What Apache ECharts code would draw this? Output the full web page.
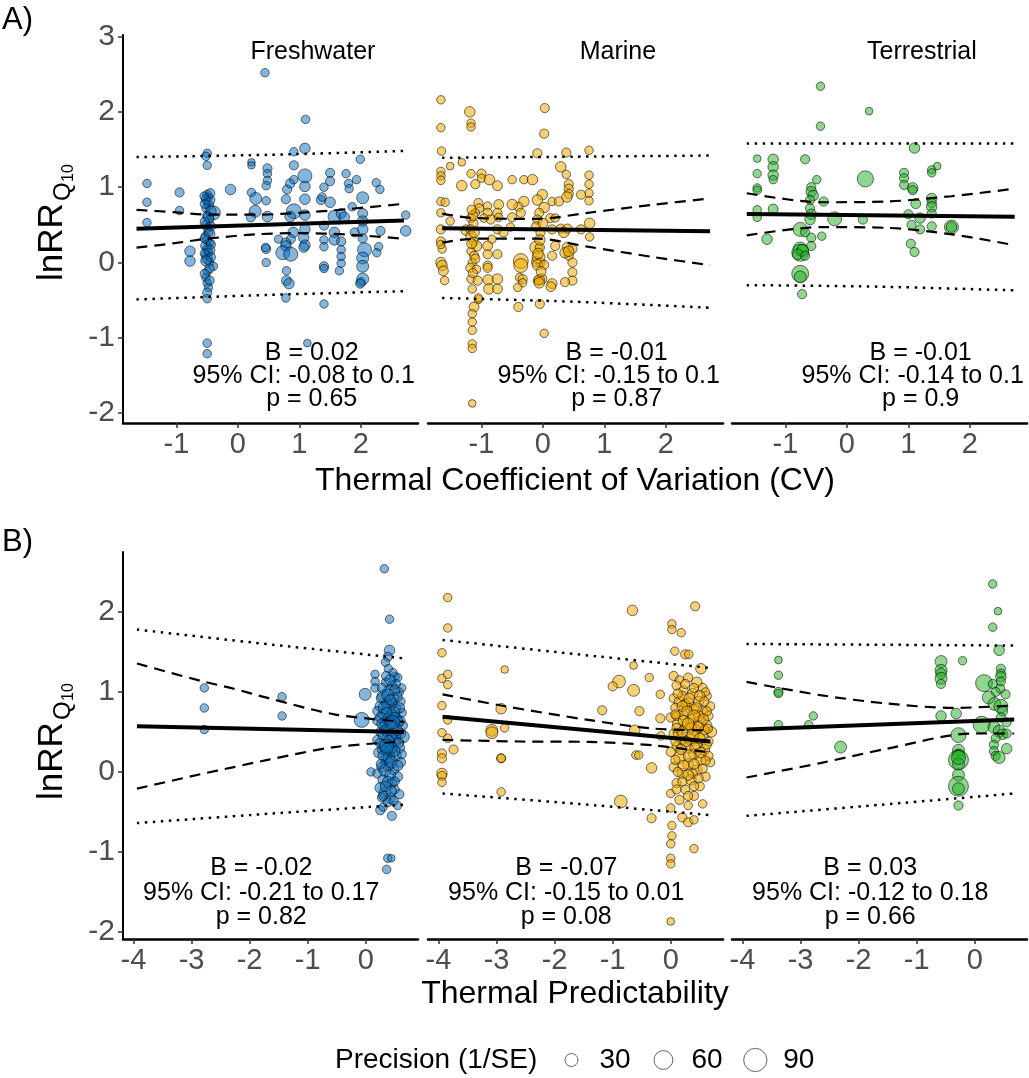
<!DOCTYPE html>
<html><head><meta charset="utf-8">
<script src="https://cdn.jsdelivr.net/npm/echarts@6/dist/echarts.min.js"></script>
<style>html,body{margin:0;padding:0;background:#fff}#c{width:1029px;height:1078px}</style>
</head><body><div id="c"></div>
<script>
const FONT = '"Liberation Sans", Arial, Helvetica, sans-serif';
const habitats = ['Freshwater', 'Marine', 'Terrestrial'];
const xTicksCV = [-1, 0, 1, 2];
const xTicksPred = [-4, -3, -2, -1, 0];
const yTicksA = [-2, -1, 0, 1, 2, 3];
const yTicksB = [-2, -1, 0, 1, 2];
const legendVals = [30, 60, 90];
const statsCV = [
  ['B = 0.02', '95% CI: -0.08 to 0.1', 'p = 0.65'],
  ['B = -0.01', '95% CI: -0.15 to 0.1', 'p = 0.87'],
  ['B = -0.01', '95% CI: -0.14 to 0.1', 'p = 0.9']
];
const statsPred = [
  ['B = -0.02', '95% CI: -0.21 to 0.17', 'p = 0.82'],
  ['B = -0.07', '95% CI: -0.15 to 0.01', 'p = 0.08'],
  ['B = 0.03', '95% CI: -0.12 to 0.18', 'p = 0.66']
];

// points: [x, lnRR, precision]
const fwCV = [
[-1.48,1.05,11],[-1.48,0.80,11],[-1.48,0.53,11],[-0.95,0.93,13],[-0.95,0.69,11],[-0.78,0.15,17],[-0.78,0.02,17],
[-0.50,1.45,11],[-0.52,1.41,11],[-0.50,1.29,11],[-0.50,0.90,13],[-0.48,0.87,11],[-0.52,0.84,13],[-0.50,0.80,11],[-0.47,0.76,13],[-0.52,0.72,11],[-0.40,0.66,30],[-0.50,0.62,13],[-0.46,0.57,11],[-0.52,0.50,13],[-0.50,0.46,11],[-0.48,0.40,13],[-0.53,0.35,11],[-0.50,0.30,13],[-0.46,0.26,11],[-0.52,0.22,17],[-0.50,0.18,13],[-0.48,0.14,11],[-0.52,0.10,13],[-0.50,0.05,17],[-0.46,0.00,11],[-0.40,-0.05,11],[-0.50,-0.12,11],[-0.52,-0.20,11],[-0.50,-0.27,11],[-0.48,-0.33,11],[-0.50,-0.40,13],[-0.50,-0.48,11],[-0.50,-1.07,11],[-0.50,-1.21,11],
[-0.46,0.83,17],[-0.54,0.78,13],[-0.44,0.68,17],[-0.48,0.60,17],[-0.54,0.54,13],[-0.44,0.48,13],[-0.46,0.38,17],[-0.54,0.32,13],[-0.44,0.24,13],[-0.46,0.16,17],[-0.54,0.12,13],[-0.44,0.07,13],[-0.52,0.02,17],[-0.46,-0.08,13],[-0.54,-0.15,13],[-0.46,-0.24,13],[-0.45,0.92,13],[-0.55,0.88,11],
[-0.12,0.97,17],[0.22,1.33,9],[0.22,1.29,9],[0.22,0.93,11],[0.29,0.85,22],[0.28,0.68,22],[0.21,0.60,13],
[0.44,2.52,11],[0.48,1.25,13],[0.48,1.18,11],[0.48,1.09,11],[0.46,1.02,11],[0.46,0.82,11],[0.48,0.61,17],[0.46,0.18,13],[0.46,0.00,11],[0.45,0.20,11],
[0.66,0.31,10],[0.78,0.84,13],[0.80,0.97,13],[0.85,1.05,13],[0.91,1.10,11],[0.91,1.29,13],[0.91,1.47,11],
[0.91,0.68,34],[0.85,0.61,17],[0.90,0.40,17],[0.86,0.31,13],[0.78,0.26,15],[0.78,0.22,17],[0.73,0.13,30],[0.86,0.11,30],[0.79,-0.11,11],[0.79,-0.24,15],[0.78,-0.47,11],[0.83,-0.28,17],
[1.09,1.515,17],[1.10,1.90,11],[1.09,1.15,30],[1.09,1.01,17],[1.09,0.84,17],[1.09,0.63,17],[1.09,0.44,17],[1.07,0.33,17],[1.09,0.23,17],[1.07,0.20,15],[1.13,-1.07,9],
[1.35,0.83,13],[1.37,0.87,11],[1.40,1.00,11],[1.50,1.19,13],[1.50,1.08,13],[1.50,0.80,17],[1.40,0.49,13],[1.57,0.61,25],[1.57,0.40,17],[1.57,0.30,17],[1.40,0.30,11],[1.40,0.21,11],[1.40,-0.05,13],[1.40,-0.08,11],[1.40,-0.55,11],
[1.68,0.65,15],[1.73,0.60,17],[1.76,1.18,11],[1.80,1.05,11],[1.81,0.98,11],[1.86,0.74,11],[1.68,0.28,13],[1.68,0.17,11],[1.68,0.08,11],[1.68,-0.01,11],[1.65,-0.11,11],[1.90,0.40,13],
[1.93,1.10,11],[1.99,1.37,11],[2.03,0.86,22],[2.03,0.65,15],[2.03,0.55,17],[2.03,0.44,17],[2.03,0.32,13],[2.06,0.17,30],[2.03,0.06,22],[2.03,-0.05,22],[2.00,-0.26,13],[2.03,-0.22,22],[1.99,-0.28,13],
[2.25,1.06,11],[2.31,0.97,11],[2.32,0.42,13],[2.29,0.21,11],[2.26,0.13,11],[2.73,0.63,11],[2.73,0.42,17]
];
const mrCV = [
[-1.66,2.16,11],[-1.66,1.79,11],[-1.65,1.48,11],[-1.66,1.21,11],[-1.66,1.15,11],[-1.66,1.09,11],[-1.66,0.81,11],[-1.59,0.80,11],[-1.66,0.66,11],[-1.51,0.55,11],[-1.66,0.44,13],[-1.66,0.28,13],[-1.64,0.18,11],[-1.66,0.24,11],[-1.66,0.00,17],[-1.64,-0.04,17],[-1.62,-0.11,15],[-1.60,-0.24,11],
[-1.51,1.28,9],[-1.32,1.33,9],[-1.32,1.02,17],[-1.25,0.43,17],
[-1.19,2.00,17],[-1.17,1.85,11],[-1.17,1.80,11],[-1.17,1.18,11],[-1.10,1.04,13],[-1.00,1.18,13],[-1.00,1.12,11],[-1.05,0.79,13],[-1.04,0.72,13],[-1.10,0.66,11],[-1.17,0.59,13],[-1.13,0.52,13],[-1.18,0.44,13],[-1.17,0.35,17],[-1.13,0.28,13],[-1.08,0.22,17],[-1.17,0.15,11],[-1.12,0.09,13],[-1.15,0.00,11],[-1.18,-0.07,13],[-1.08,-0.09,11],[-1.17,-0.22,11],[-1.06,-0.24,13],[-1.15,-0.35,11],[-1.05,-0.49,11],[-1.12,-0.59,15],[-1.15,-0.68,11],[-1.15,-0.79,11],[-1.15,-0.90,11],[-1.15,-1.08,11],[-1.15,-1.14,11],[-1.15,-1.87,9],
[-1.14,0.62,15],[-1.12,0.40,17],[-1.16,0.25,15],[-1.10,0.05,13],[-1.14,-0.14,13],[-1.16,0.70,13],
[-0.87,1.10,17],[-0.74,1.02,15],[-0.90,0.75,11],[-0.90,0.66,13],[-0.96,0.59,11],[-0.85,0.57,13],[-0.72,0.77,15],[-0.74,0.66,13],[-0.72,0.60,11],[-0.83,0.31,11],[-0.74,0.44,13],[-0.64,0.40,13],[-0.90,0.22,15],[-0.90,0.11,13],[-0.74,0.11,13],[-0.90,-0.04,13],[-0.90,-0.07,13],[-0.89,-0.23,17],[-0.74,-0.22,17],[-0.88,-0.35,17],[-0.74,-0.35,15],[-1.05,-0.47,11],
[-0.50,1.10,11],[-0.31,1.10,11],[-0.17,1.10,17],[-0.31,0.81,17],[-0.40,0.74,13],[-0.36,0.66,13],[-0.50,0.77,17],[-0.50,0.60,13],[-0.53,0.47,11],[-0.36,0.02,34],[-0.36,-0.04,30],[-0.38,-0.20,11],[-0.33,-0.22,13],[-0.33,-0.27,11],[-0.41,-0.33,11],[-0.40,-0.59,13],
[0.03,2.05,13],[0.02,1.71,13],[-0.09,1.45,13],[-0.01,0.90,17],[-0.09,0.83,17],[0.02,0.73,17],[-0.06,0.66,13],[-0.09,0.57,13],[-0.11,0.48,13],[-0.04,0.40,13],[0.12,0.59,13],[0.20,0.59,11],[0.15,0.44,13],[0.20,0.22,13],[0.15,0.09,13],[0.15,0.81,11],[-0.11,0.20,25],[-0.05,0.20,13],[-0.10,0.01,17],[-0.04,0.00,13],[-0.02,-0.22,17],[-0.08,-0.24,13],[0.15,-0.28,15],[-0.07,0.07,25],[-0.09,-0.03,17],[0.02,-0.03,13],[-0.06,-0.23,17],[-0.06,-0.27,17],[0.13,-0.32,15],[-0.05,-0.55,13],[0.02,-0.94,11],
[-0.05,0.30,17],[-0.08,0.12,17],[0.00,0.52,15],[-0.03,-0.12,15],
[0.38,1.46,13],[0.29,1.27,17],[0.38,1.17,11],[0.42,1.04,13],[0.42,0.98,13],[0.42,0.91,13],[0.39,0.87,17],[0.26,0.81,13],[0.29,0.45,13],[0.34,0.40,17],[0.40,0.45,13],[0.40,0.20,17],[0.48,0.18,13],[0.42,0.09,13],[0.48,0.00,13],[0.48,-0.13,13],[0.48,-0.24,13],[0.36,-0.26,13],[0.36,0.13,17],[0.42,0.15,17],
[0.75,1.49,11],[0.75,1.16,11],[0.75,1.04,11],[0.75,0.92,11],[0.75,0.82,11],[0.62,0.90,13],[0.62,0.44,13],[0.76,0.52,17],[0.76,0.34,11]
];
const trCV = [
[-1.46,1.38,9],[-1.46,1.18,11],[-1.46,0.99,11],[-1.46,0.96,11],[-1.46,0.70,11],[-1.46,0.60,11],
[-1.20,1.37,17],[-1.20,1.27,17],[-1.20,1.16,17],[-1.20,1.10,11],[-1.20,0.71,15],[-1.30,0.31,17],
[-0.68,1.37,13],[-0.43,2.34,11],[-0.43,1.81,11],[-0.49,1.10,11],
[-0.58,1.00,13],[-0.58,0.94,17],[-0.55,0.89,17],[-0.60,0.83,13],[-0.38,0.81,13],[-0.60,0.72,13],[-0.58,0.64,17],[-0.60,0.57,17],
[-0.76,0.44,30],[-0.68,0.40,13],[-0.58,0.33,13],[-0.58,0.22,13],[-0.76,0.18,30],[-0.76,0.13,44],[-0.72,0.16,22],[-0.80,0.11,17],[-0.68,0.09,13],[-0.76,-0.15,44],[-0.76,-0.19,22],[-0.73,-0.42,13],[-0.41,0.35,11],
[-0.20,0.58,30],[0.26,0.57,13],[0.30,1.11,40],[0.36,2.01,9],
[0.93,1.19,13],[0.93,1.12,13],[0.93,1.03,13],[1.07,0.99,17],[1.07,0.96,13],[1.10,1.52,17],[1.12,0.78,15],[1.00,0.64,13],[1.05,0.50,13],[1.19,0.59,17],[1.19,0.44,13],[1.04,0.25,13],[1.10,0.14,13],
[1.38,1.23,11],[1.47,1.28,9],[1.38,1.19,11],[1.38,0.85,17],[1.38,0.79,13],[1.38,0.74,17],[1.38,0.65,13],[1.38,0.48,13],
[1.70,0.47,30],[1.70,0.47,17]
];
const fwPred = [
[-2.78,1.05,11],[-2.78,0.80,11],[-2.78,0.53,11],[-1.44,0.94,11],[-1.44,0.70,11],[-0.07,0.65,34],[-0.01,0.97,22],[0.32,2.54,11],[0.41,1.91,11],[0.41,1.52,17],[0.16,1.22,11],[0.16,1.13,11],[0.16,1.05,11],[0.09,0.00,11],[0.25,-0.48,13],[0.45,-0.55,13],[0.38,-1.08,11],[0.44,-1.08,9],[0.36,-1.22,11],
[0.38,1.44,13],[0.34,1.37,11],[0.39,1.29,11],[0.50,1.19,13],[0.55,1.18,11],[0.52,1.10,13],[0.58,1.00,11],[0.45,1.08,13],[0.40,1.02,17],[0.30,0.95,22],[0.48,0.92,17],[0.60,0.88,13],[0.36,0.86,17],[0.25,0.82,17],[0.39,0.82,25],[0.52,0.78,17],[0.62,0.74,13],[0.30,0.72,17],[0.45,0.70,22],[0.39,0.66,25],[0.20,0.64,13],[0.56,0.62,17],[0.64,0.58,13],[0.32,0.56,17],[0.46,0.54,22],[0.25,0.50,13],[0.60,0.48,17],[0.64,0.44,25],[0.38,0.44,17],[0.20,0.40,13],[0.50,0.38,22],[0.30,0.34,17],[0.58,0.30,17],[0.42,0.28,22],[0.22,0.24,15],[0.52,0.20,17],[0.35,0.16,17],[0.60,0.12,15],[0.38,0.10,30],[0.28,0.06,17],[0.48,0.03,17],[0.20,-0.02,13],[0.55,-0.06,15],[0.30,-0.10,17],[0.45,-0.14,15],[0.25,-0.20,17],[0.50,-0.22,13],[0.33,-0.26,22],[0.42,-0.33,17],[0.38,-0.38,13],[0.30,-0.44,11],[0.55,-0.42,11],[0.26,0.92,13],[0.55,0.66,13],[0.20,0.76,13],[0.62,1.05,11],[0.47,1.24,11],[0.35,1.12,13],[0.28,0.28,13],[0.62,0.22,13],[0.45,0.86,17],[0.33,0.62,17],[0.52,0.46,17],[0.40,0.18,22],[0.28,-0.32,13],[0.58,-0.28,13],
[0.35,1.20,13],[0.42,1.15,17],[0.28,1.05,13],[0.50,1.02,17],[0.38,0.96,22],[0.55,0.94,13],[0.42,0.90,17],[0.32,0.80,22],[0.58,0.80,17],[0.48,0.75,22],[0.36,0.74,17],[0.26,0.68,17],[0.50,0.68,17],[0.42,0.60,22],[0.60,0.64,13],[0.28,0.60,17],[0.36,0.52,22],[0.54,0.52,17],[0.44,0.46,17],[0.30,0.46,17],[0.40,0.38,22],[0.56,0.36,17],[0.24,0.36,13],[0.46,0.30,17],[0.36,0.28,22],[0.50,0.26,17],[0.30,0.20,17],[0.44,0.12,22],[0.55,0.08,17],[0.33,0.02,22],[0.42,-0.04,17],[0.26,0.10,13],[0.38,-0.12,17],[0.50,-0.12,13],[0.34,-0.18,17],[0.44,-0.24,17],[0.30,-0.30,13],[0.48,-0.36,13],[0.36,0.32,30],[0.46,0.62,30]
];
const mrPred = [
[-3.84,2.18,11],[-3.84,1.80,11],[-3.94,1.49,11],[-3.94,1.17,11],[-3.84,1.22,11],[-3.84,1.09,11],[-3.94,0.83,11],[-3.84,0.65,11],[-3.94,0.49,11],[-3.84,0.42,11],[-3.94,0.23,13],[-3.94,0.17,13],[-3.94,-0.02,17],[-3.94,-0.05,13],[-3.94,-0.13,11],[-3.74,0.28,13],
[-2.86,1.28,9],[-2.92,0.79,17],[-2.86,0.55,11],[-3.08,0.52,22],[-3.08,0.49,22],[-2.92,0.17,13],[-2.92,0.17,11],[-2.92,-0.25,11],
[-0.66,2.02,17],[0.42,2.07,13],[0.02,1.85,11],[0.02,1.78,11],[0.18,1.74,11],[-0.64,1.33,9],[0.07,1.51,11],[0.25,1.47,13],[0.31,1.47,11],[0.52,1.29,17],[-0.89,1.13,25],[-1.00,1.07,13],[-0.64,1.02,22],[-0.37,1.18,11],[-1.18,0.77,13],[-0.54,0.76,13],[-0.62,0.52,17],[-0.60,0.21,11],[-0.55,0.21,11],[-0.33,0.05,17],[-0.86,-0.37,25],[-0.33,-0.58,13],[-0.18,0.97,11],[-0.18,0.67,13],[-0.17,0.45,11],[0.02,-0.67,11],[0.02,-0.80,11],
[0.00,-0.90,11],[0.00,-1.08,11],[0.00,-1.15,11],[0.40,-0.96,11],[0.00,-1.87,9],[0.20,-0.57,13],[0.30,-0.63,13],[0.40,-0.60,11],
[0.05,1.20,13],[0.15,1.15,11],[0.30,1.18,13],[0.45,1.12,17],[0.10,1.08,13],[0.55,1.05,13],[0.22,1.02,13],[0.38,0.98,17],[0.62,0.95,13],[0.05,0.92,13],[0.15,0.88,17],[0.48,0.88,17],[0.30,0.85,22],[0.68,0.82,13],[0.08,0.80,13],[0.40,0.78,17],[0.55,0.75,17],[0.20,0.72,17],[0.65,0.70,13],[0.00,0.68,13],[0.35,0.66,17],[0.50,0.62,22],[0.12,0.60,17],[0.62,0.58,17],[0.25,0.55,17],[0.42,0.52,22],[0.70,0.50,17],[0.05,0.48,13],[0.55,0.45,17],[0.18,0.42,17],[0.35,0.40,22],[0.65,0.38,13],[0.45,0.35,17],[0.10,0.32,13],[0.28,0.30,17],[0.58,0.28,17],[0.00,0.25,13],[0.40,0.22,17],[0.15,0.18,22],[0.52,0.15,17],[0.68,0.12,13],[0.30,0.10,17],[0.05,0.06,13],[0.45,0.02,17],[0.20,-0.02,17],[0.60,-0.06,13],[0.35,-0.10,17],[0.10,-0.14,13],[0.50,-0.18,13],[0.25,-0.22,13],[0.00,-0.27,11],[0.40,-0.30,13],[0.15,-0.35,13],[0.30,-0.42,11],[0.00,-0.45,11],[0.55,-0.40,11],[0.20,0.95,13],[0.60,1.00,11],[0.35,0.55,17],[0.10,0.70,13],[0.48,0.70,17],[0.25,0.85,13],[0.65,0.20,13],[0.12,0.48,13],[0.38,-0.02,13],[0.58,0.52,13],
[0.25,1.10,13],[0.40,1.05,13],[0.12,0.98,13],[0.50,0.95,17],[0.32,0.92,17],[0.58,0.88,13],[0.20,0.82,17],[0.44,0.80,17],[0.62,0.76,13],[0.28,0.76,17],[0.08,0.72,13],[0.40,0.70,22],[0.56,0.66,17],[0.22,0.64,17],[0.30,0.60,22],[0.48,0.56,17],[0.10,0.55,13],[0.64,0.54,13],[0.20,0.50,17],[0.38,0.46,22],[0.50,0.42,17],[0.26,0.38,17],[0.62,0.34,13],[0.08,0.38,13],[0.42,0.30,17],[0.18,0.28,17],[0.52,0.24,17],[0.32,0.20,22],[0.08,0.15,13],[0.60,0.14,13],[0.40,0.10,17],[0.22,0.08,17],[0.55,0.04,13],[0.12,0.00,13],[0.30,-0.04,17],[0.48,-0.08,13],[0.20,-0.12,13],[0.40,-0.18,13],[0.10,-0.22,13],[0.30,-0.30,13]
];
const trPred = [
[-3.38,1.40,9],[-3.38,1.21,11],[-3.38,1.00,13],[-3.38,0.98,11],[-3.38,0.59,11],[-2.86,0.59,11],[-2.78,0.70,11],[-2.31,0.31,22],
[-0.58,1.38,22],[-0.58,1.27,22],[-0.58,1.23,17],[-0.58,1.17,22],[-0.58,1.10,13],[-0.21,1.39,11],[-0.58,0.70,17],[-0.32,0.73,17],
[-0.28,0.46,34],[-0.28,0.27,22],[-0.28,0.21,22],[-0.28,0.15,61],[-0.28,0.10,22],[-0.28,0.18,30],[-0.28,-0.04,22],[-0.28,-0.18,61],[-0.28,-0.21,22],[-0.28,-0.42,13],
[0.31,2.35,11],[0.40,2.01,9],[0.31,1.81,11],[0.42,1.52,17],
[0.45,1.29,13],[0.45,1.23,13],[0.45,1.19,17],[0.45,1.13,13],[0.44,1.04,13],[0.16,1.11,44],[0.31,1.10,13],[0.36,1.00,13],[0.53,0.97,13],
[0.24,0.93,25],[0.34,0.85,25],[0.45,0.82,30],[0.48,0.76,15],[0.45,0.68,13],[0.12,0.59,44],
[0.33,0.56,22],[0.42,0.51,22],[0.48,0.47,17],[0.36,0.42,13],[0.33,0.34,13],[0.33,0.26,13],[0.36,0.20,13],[0.42,0.18,22],[0.55,0.29,17],[0.55,0.62,13],[0.55,0.48,13]
];

// regression fit, 95% CI (dashed) and prediction interval (dotted)
const fitCV = [
  [[-1.65,0.448],[2.70,0.557]],
  [[-1.64,0.456],[2.72,0.416]],
  [[-1.63,0.645],[2.73,0.606]]
];
const ciUpCV = [
  [[-1.65,0.70],[-1.0,0.665],[-0.5,0.636],[0.3,0.635],[1.0,0.66],[1.8,0.71],[2.70,0.78]],
  [[-1.64,0.65],[-1.13,0.59],[-0.09,0.58],[0.73,0.66],[1.82,0.77],[2.72,0.85]],
  [[-1.63,0.92],[-0.43,0.80],[0.66,0.81],[1.70,0.88],[2.73,0.98]]
];
const ciLoCV = [
  [[-1.65,0.197],[-1.0,0.26],[-0.5,0.316],[0.3,0.375],[1.0,0.39],[1.8,0.37],[2.70,0.316]],
  [[-1.64,0.264],[-1.13,0.316],[-0.09,0.316],[0.73,0.21],[1.82,0.07],[2.72,-0.036]],
  [[-1.63,0.36],[-0.43,0.47],[0.66,0.46],[1.74,0.37],[2.73,0.23]]
];
const piUpCV = [
  [[-1.65,1.40],[0.5,1.43],[2.70,1.48]],
  [[-1.64,1.39],[0.5,1.405],[2.72,1.42]],
  [[-1.63,1.58],[0.5,1.58],[2.73,1.58]]
];
const piLoCV = [
  [[-1.65,-0.49],[0.5,-0.43],[2.70,-0.38]],
  [[-1.64,-0.47],[0.5,-0.52],[2.72,-0.60]],
  [[-1.63,-0.30],[0.5,-0.32],[2.73,-0.37]]
];
const fitPred = [
  [[-3.94,0.571],[0.66,0.50]],
  [[-3.93,0.69],[0.68,0.38]],
  [[-3.93,0.53],[0.68,0.655]]
];
const ciUpPred = [
  [[-3.94,1.355],[-2.85,1.14],[-2.27,1.04],[-1.69,0.925],[-0.54,0.72],[0.66,0.625]],
  [[-3.93,0.97],[-2.92,0.83],[-1.42,0.65],[-0.27,0.54],[0.68,0.52]],
  [[-3.93,1.125],[-2.66,0.96],[-1.51,0.855],[-0.36,0.80],[0.68,0.83]]
];
const ciLoPred = [
  [[-3.94,-0.21],[-2.85,-0.03],[-2.27,0.06],[-1.69,0.15],[-0.54,0.31],[0.66,0.38]],
  [[-3.93,0.40],[-2.58,0.38],[-1.42,0.375],[-0.27,0.33],[0.68,0.24]],
  [[-3.93,-0.07],[-2.66,0.11],[-1.51,0.29],[-0.03,0.48],[0.68,0.48]]
];
const piUpPred = [
  [[-3.94,1.78],[-1.6,1.59],[0.66,1.42]],
  [[-3.93,1.65],[-1.6,1.47],[0.68,1.30]],
  [[-3.93,1.60],[-1.6,1.59],[0.68,1.58]]
];
const piLoPred = [
  [[-3.94,-0.64],[-1.6,-0.52],[0.66,-0.41]],
  [[-3.93,-0.27],[-1.6,-0.40],[0.68,-0.54]],
  [[-3.93,-0.55],[-1.6,-0.41],[0.68,-0.27]]
];

const fills = ['rgba(8,110,190,0.5)', 'rgba(238,170,0,0.55)', 'rgba(32,176,32,0.5)'];
const sizeOf = p => 2.556 * Math.sqrt(p);

const lefts = [123, 428, 732], W = 295;
const rows = [
  {top: 35, height: 388, xmin: -1.87, xmax: 2.93, ymin: -2.13, ymax: 3.02, xt: xTicksCV, yt: yTicksA,
   pts: [fwCV, mrCV, trCV], fit: fitCV, ciU: ciUpCV, ciL: ciLoCV, piU: piUpCV, piL: piLoCV, stats: statsCV,
   statX: [1.2, 1.07, 1.2]},
  {top: 552, height: 387, xmin: -4.18, xmax: 0.90, ymin: -2.09, ymax: 2.75, xt: xTicksPred, yt: yTicksB,
   pts: [fwPred, mrPred, trPred], fit: fitPred, ciU: ciUpPred, ciL: ciLoPred, piU: piUpPred, piL: piLoPred, stats: statsPred,
   statX: [-1.8, -1.8, -1.8]}
];

const grid = [], xAxis = [], yAxis = [], series = [];
rows.forEach((R, r) => {
  for (let c = 0; c < 3; c++) {
    const i = r * 3 + c;
    grid.push({left: lefts[c], top: R.top, width: W, height: R.height});
    xAxis.push({gridIndex: i, type: 'value', min: R.xmin, max: R.xmax,
      axisLine: {show: true, onZero: false, lineStyle: {color: '#000', width: 2.5}},
      axisTick: {show: true, customValues: R.xt, length: 5, lineStyle: {color: '#333', width: 1.5}},
      axisLabel: {customValues: R.xt, fontSize: 29, color: '#4D4D4D', margin: 7, fontFamily: FONT},
      splitLine: {show: false}});
    if (c === 0) {
      yAxis.push({gridIndex: i, type: 'value', min: R.ymin, max: R.ymax,
        axisLine: {show: true, onZero: false, lineStyle: {color: '#000', width: 2}},
        axisTick: {show: true, customValues: R.yt, length: 5, lineStyle: {color: '#333', width: 1.5}},
        axisLabel: {customValues: R.yt, fontSize: 30, color: '#4D4D4D', margin: 8, fontFamily: FONT},
        splitLine: {show: false}});
    } else {
      yAxis.push({gridIndex: i, type: 'value', min: R.ymin, max: R.ymax, show: false});
    }
    const base = {xAxisIndex: i, yAxisIndex: i, silent: true, animation: false};
    series.push(Object.assign({type: 'scatter', data: R.pts[c], symbolSize: v => sizeOf(v[2]),
      itemStyle: {color: fills[c], borderColor: 'rgba(0,0,0,0.55)', borderWidth: 1, opacity: 1}, z: 2}, base));
    const ln = (d, w, type) => Object.assign({type: 'line', data: d, showSymbol: false, symbol: 'none', smooth: 0.3,
      lineStyle: {color: '#000', width: w, type: type}, z: 5}, base);
    series.push(ln(R.piU[c], 2.5, [2.5, 5.5]));
    series.push(ln(R.piL[c], 2.5, [2.5, 5.5]));
    series.push(ln(R.ciU[c], 2.2, [11, 7]));
    series.push(ln(R.ciL[c], 2.2, [11, 7]));
    series.push(ln(R.fit[c], 4, 'solid'));
    const st = R.stats[c];
    const txt = [
      {name: st[0], value: [R.statX[0], -1.2]},
      {name: st[1], value: [R.statX[1], -1.51]},
      {name: st[2], value: [R.statX[2], -1.81]}
    ];
    if (r === 0) txt.push({name: habitats[c], value: [1.22, 2.79]});
    series.push(Object.assign({type: 'scatter', data: txt, symbolSize: 1, itemStyle: {color: 'rgba(0,0,0,0)', opacity: 1}, z: 6,
      label: {show: true, position: 'inside', formatter: p => p.name, fontSize: 25, color: '#000', opacity: 1, fontFamily: FONT}}, base));
  }
});

const graphic = [];
function yTitle(yStart) {
  graphic.push({type: 'text', x: 52, y: yStart, rotation: Math.PI / 2,
    style: {text: 'lnRR', fontSize: 35, fontFamily: FONT, fill: '#000', align: 'left', verticalAlign: 'middle'}});
  graphic.push({type: 'text', x: 63, y: yStart - 80, rotation: Math.PI / 2,
    style: {text: 'Q', fontSize: 24, fontFamily: FONT, fill: '#000', align: 'left', verticalAlign: 'middle'}});
  graphic.push({type: 'text', x: 69, y: yStart - 99, rotation: Math.PI / 2,
    style: {text: '10', fontSize: 16, fontFamily: FONT, fill: '#000', align: 'left', verticalAlign: 'middle'}});
}
yTitle(281);
yTitle(800);
graphic.push({type: 'text', x: 2, y: 20, style: {text: 'A)', fontSize: 31, fontFamily: FONT, fill: '#000', verticalAlign: 'middle'}});
graphic.push({type: 'text', x: 2, y: 542, style: {text: 'B)', fontSize: 31, fontFamily: FONT, fill: '#000', verticalAlign: 'middle'}});
graphic.push({type: 'text', x: 575, y: 481, style: {text: 'Thermal Coefficient of Variation (CV)', fontSize: 32, fontFamily: FONT, fill: '#000', align: 'center', verticalAlign: 'middle'}});
graphic.push({type: 'text', x: 575, y: 994, style: {text: 'Thermal Predictability', fontSize: 32, fontFamily: FONT, fill: '#000', align: 'center', verticalAlign: 'middle'}});
// legend
graphic.push({type: 'text', x: 335, y: 1060, style: {text: 'Precision (1/SE)', fontSize: 28, fontFamily: FONT, fill: '#000', align: 'left', verticalAlign: 'middle'}});
const legX = [571.5, 663.4, 755.3];
legendVals.forEach((v, k) => {
  graphic.push({type: 'circle', shape: {cx: legX[k], cy: 1060, r: sizeOf(v) / 2 - 0.5}, style: {fill: 'none', stroke: '#666', lineWidth: 1}});
  graphic.push({type: 'text', x: legX[k] + 28, y: 1060, style: {text: String(v), fontSize: 28, fontFamily: FONT, fill: '#000', align: 'left', verticalAlign: 'middle'}});
});

const chart = echarts.init(document.getElementById('c'), null, {renderer: 'canvas'});
chart.setOption({animation: false, backgroundColor: '#fff', grid, xAxis, yAxis, series, graphic});
</script></body></html>
